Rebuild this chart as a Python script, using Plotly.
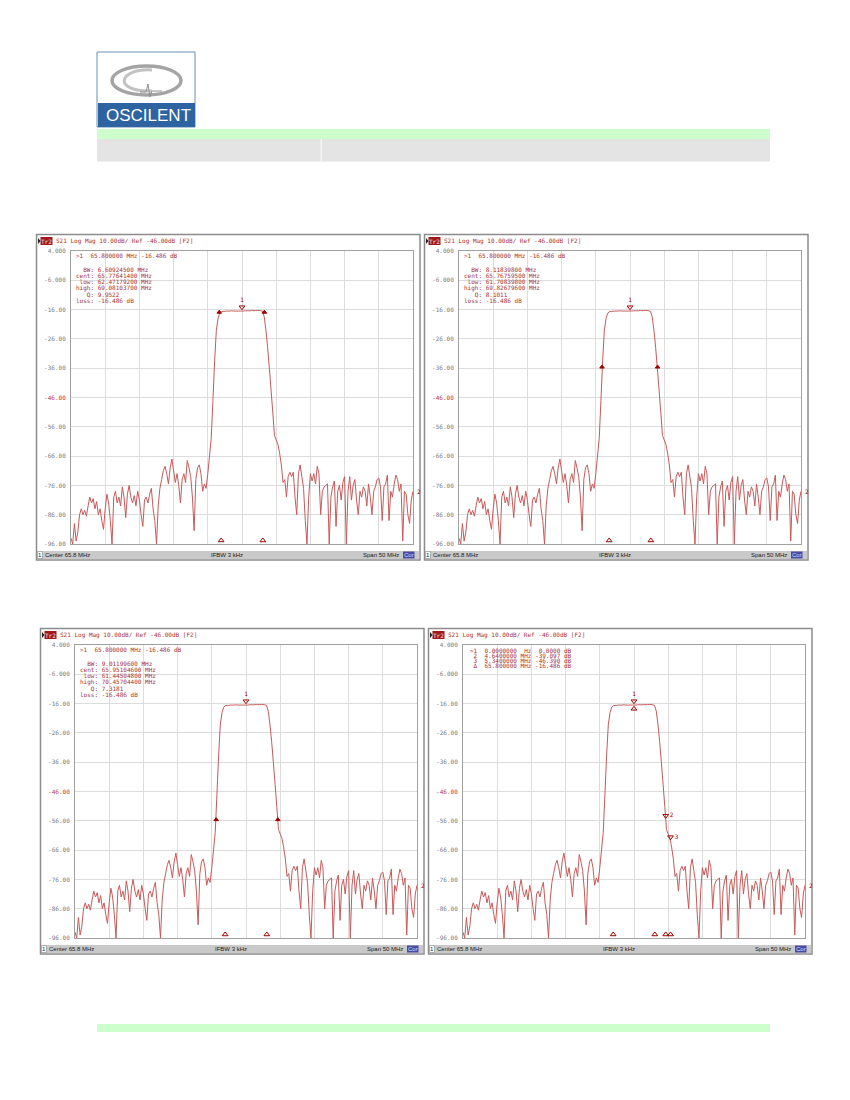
import plotly.graph_objects as go

# the page is 850x1100; the browser puts an 8px body margin round the figure
PAGE_W, PAGE_H = 850, 1100
BODY = 8
FIG_W, FIG_H = PAGE_W - 2 * BODY, PAGE_H - 2 * BODY

# Analyzer settings shown on screen
center_mhz = 65.8
span_mhz = 50.0
n_points = 201
ref_level_db = -46.0
scale_db = 10.0
ifbw_khz = 3
y_ticks_db = [4, -6, -16, -26, -36, -46, -56, -66, -76, -86, -96]

# S21 trace (dB), one value per sweep point (0.25 MHz)
stopband_low_db = [
    -94, -96, -89, -95, -92, -86, -84, -86, -84.5, -86.5,
    -83, -80, -82, -80.5, -84, -81.5, -86, -84, -88, -91,
    -84, -79, -82, -88, -96, -80, -78, -82, -80, -83,
    -76.5, -80, -87, -79, -76, -80, -82, -79.5, -83, -78,
    -81, -86, -90, -81, -80, -82, -79, -77, -84, -88,
    -96, -83, -77, -74, -71, -69.5, -72, -75.5, -70, -67,
    -71, -75, -72, -76, -82, -74, -72, -75, -67.5, -70,
    -73, -80, -91.5, -74, -70, -69, -72, -78, -75.5, -77,
    -72,
]
skirt_low_db = [-66, -60, -47, -33.5, -23, -19, -17.2]
passband_db = [
    -16.7, -16.6, -16.6, -16.5, -16.5, -16.5, -16.4, -16.5, -16.5, -16.5,
    -16.5, -16.5, -16.49, -16.5, -16.4, -16.4, -16.4, -16.4, -16.3, -16.4,
    -16.3, -16.3, -16.3, -16.4, -16.6,
]
skirt_high_db = [-18.5, -23, -29, -36, -43.5, -51, -59, -60.5, -62, -65]
stopband_high_db = [
    -69, -75, -74, -80, -73, -71.5, -73, -71.5, -80, -86,
    -72, -69, -73, -77, -88, -96, -80, -72, -74.5, -72,
    -75.5, -69.5, -72, -86, -78, -76.5, -76, -75.5, -96, -80,
    -76.5, -74.5, -90, -78, -76, -81, -75, -73, -96, -78,
    -73, -81, -76, -74, -81, -86, -78, -80, -76.5, -78,
    -83, -75.5, -80, -86, -78, -76.5, -74, -73.5, -76.5, -88,
    -76.5, -75.5, -72.5, -88, -78, -80, -75.5, -72.5, -74, -78,
    -75.5, -95, -78, -79, -86, -89, -81, -78,
]
s21_db = stopband_low_db + skirt_low_db + passband_db + skirt_high_db + stopband_high_db

f_start = center_mhz - span_mhz / 2
f_stop = center_mhz + span_mhz / 2
freq_mhz = [f_start + k * span_mhz / (n_points - 1) for k in range(n_points)]

# Marker readouts (panels 1-3 are bandwidth searches)
marker1_mhz = 65.8
marker1_db = -16.486
bw_mhz = [6.60924500, 8.11839800, 9.01199600]
cent_mhz = [65.77641400, 65.76759500, 65.95104600]
low_mhz = [62.47179200, 61.70839800, 61.44504800]
high_mhz = [69.08103700, 69.82679600, 70.45704400]
q_factor = [9.9522, 8.1011, 7.3181]
bw_level_db = [-17.8, -36.5, -56.5]
stim_marker_mhz = [62.75, 68.85]
# panel 4: delta markers relative to marker 1
delta_mhz = [4.64, 5.34]
delta_db = [-39.097, -46.390]

# colours / fonts
GRID = "#dcdcdc"
FRAME = "#a0a0a0"
TRACE = "#c65a5a"
MARK = "#a00000"
TXT_RED = "#a83232"
LABEL = "#7a7a7a"
MONO = "DejaVu Sans Mono"
SANS = "Liberation Sans"

# panel frames on the page (left, top) and plot area inside a frame
panel_origin = [(36.5, 234.5), (424.5, 234.5), (40.5, 628.5), (428.5, 628.5)]
FRAME_W, FRAME_H = 383.5, 325.5
PLOT_REL = (34.5, 16.5, 376.5, 309.5)

shapes, annotations = [], []


def X(x):
    return (x - BODY) / FIG_W


def Y(y):
    return 1 - (y - BODY) / FIG_H


def box(x0, y0, x1, y1, fill="rgba(0,0,0,0)", line=None, width=1):
    shapes.append(dict(
        type="rect", xref="paper", yref="paper",
        x0=X(x0), x1=X(x1), y0=Y(y1), y1=Y(y0),
        fillcolor=fill,
        line=dict(color=line or "rgba(0,0,0,0)", width=width if line else 0),
    ))


def path(points, fill=None, line=None, width=1, close=True):
    d = "M " + " L ".join(f"{X(a):.5f},{Y(b):.5f}" for a, b in points)
    if close:
        d += " Z"
    shapes.append(dict(
        type="path", xref="paper", yref="paper", path=d,
        fillcolor=fill or "rgba(0,0,0,0)",
        line=dict(color=line or "rgba(0,0,0,0)", width=width if line else 0),
    ))


def note(x, y, text, size=6, color=TXT_RED, anchor="left", family=MONO):
    annotations.append(dict(
        x=X(x), y=Y(y), xref="paper", yref="paper",
        text=text.replace(" ", "\u00a0"), showarrow=False,
        xanchor=anchor, yanchor="middle", borderpad=0,
        font=dict(family=family, size=size, color=color),
    ))


fig = go.Figure()
axes = {}

for k, (ox, oy) in enumerate(panel_origin):
    n = "" if k == 0 else str(k + 1)
    xr, yr = "x" + n, "y" + n
    left, top = ox + PLOT_REL[0], oy + PLOT_REL[1]
    right, bottom = ox + PLOT_REL[2], oy + PLOT_REL[3]

    ticktext = []
    for v in y_ticks_db:
        s = f"{v:.3f}" if abs(v) < 10 else f"{v:.2f}"
        if v == ref_level_db:
            s = f"<span style='color:#c03030'>{s}</span>"
        ticktext.append(s)

    axes["xaxis" + n] = dict(
        domain=[X(left), X(right)], anchor=yr, range=[f_start, f_stop],
        tick0=f_start, dtick=span_mhz / 10, showgrid=True, gridcolor=GRID,
        showline=True, linecolor=FRAME, linewidth=1, mirror=True,
        showticklabels=False, zeroline=False, ticks="", fixedrange=True,
        automargin=False,
    )
    axes["yaxis" + n] = dict(
        domain=[Y(bottom), Y(top)], anchor=xr,
        range=[y_ticks_db[-1], y_ticks_db[0]],
        tickvals=y_ticks_db, ticktext=ticktext,
        tickfont=dict(family=MONO, size=6, color=LABEL),
        showgrid=True, gridcolor=GRID,
        showline=True, linecolor=FRAME, linewidth=1, mirror=True,
        zeroline=False, ticks="", ticklabelstandoff=3, fixedrange=True,
        automargin=False,
    )

    fig.add_trace(go.Scatter(
        x=freq_mhz, y=s21_db, xaxis=xr, yaxis=yr, mode="lines",
        line=dict(color=TRACE, width=1, simplify=False),
        hoverinfo="skip", showlegend=False,
    ))

    def marks(xs, ys, symbol, size, text=None, textpos="top center"):
        fig.add_trace(go.Scatter(
            x=xs, y=ys, xaxis=xr, yaxis=yr,
            mode="markers+text" if text else "markers",
            marker=dict(symbol=symbol, size=size, color=MARK,
                        line=dict(color=MARK, width=1)),
            text=text, textposition=textpos,
            textfont=dict(family=MONO, size=6, color=MARK),
            cliponaxis=False, hoverinfo="skip", showlegend=False,
        ))

    lift = 1.3
    # marker 1 at the passband centre
    marks([marker1_mhz], [marker1_db + lift], "triangle-down-open", 5, text=["1"])
    # stimulus markers along the bottom edge
    stim = list(stim_marker_mhz)
    if k == 3:
        stim += [marker1_mhz + d for d in delta_mhz]
    marks(stim, [y_ticks_db[-1] + 1.2] * len(stim), "triangle-up-open", 5)
    marks([marker1_mhz], [y_ticks_db[-1] - 1.2], "triangle-up", 7)
    # reference level arrows on both sides
    marks([f_start - 0.4], [ref_level_db], "triangle-right", 6)
    marks([f_stop + 0.4], [ref_level_db], "triangle-left", 6)

    if k < 3:
        marks([low_mhz[k], high_mhz[k]], [bw_level_db[k] + 0.9] * 2, "triangle-up", 4)
        lines = [
            f">1  {marker1_mhz:.6f} MHz {marker1_db:.3f} dB",
            f"  BW: {bw_mhz[k]:.8f} MHz",
            f"cent: {cent_mhz[k]:.8f} MHz",
            f" low: {low_mhz[k]:.8f} MHz",
            f"high: {high_mhz[k]:.8f} MHz",
            f"   Q: {q_factor[k]:.4f}",
            f"loss: {marker1_db:.3f} dB",
        ]
        line_y = [21, 34.5, 40.8, 47.1, 53.4, 59.7, 66]
        for s, yy in zip(lines, line_y):
            note(ox + 38.5, oy + yy, s)
    else:
        marks([marker1_mhz], [marker1_db - lift], "triangle-up-open", 5)
        marks([marker1_mhz + d for d in delta_mhz],
              [marker1_db + d + lift for d in delta_db],
              "triangle-down-open", 5, text=["2", "3"], textpos="middle right")
        lines = [
            f">1  {0:.7f}  Hz  {0:.4f} dB",
            f" 2  {delta_mhz[0]:.7f} MHz {delta_db[0]:.3f} dB",
            f" 3  {delta_mhz[1]:.7f} MHz {delta_db[1]:.3f} dB",
            f" \u0394  {marker1_mhz:.6f} MHz {marker1_db:.3f} dB",
        ]
        for j, s in enumerate(lines):
            note(ox + 40.5, oy + 21.5 + 5 * j, s)

    # trace number at the end of the trace
    annotations.append(dict(
        x=f_stop, y=s21_db[-1], xref=xr, yref=yr, text="2", showarrow=False,
        xanchor="left", yanchor="middle", xshift=2,
        font=dict(family=MONO, size=6, color=MARK),
    ))

    # frame and title bar
    box(ox, oy, ox + FRAME_W, oy + FRAME_H, line="#8c8c8c", width=1.5)
    path([(ox + 1.5, oy + 3.5), (ox + 4, oy + 6.5), (ox + 1.5, oy + 9.5)], fill="#202020")
    box(ox + 4, oy + 2.5, ox + 16, oy + 10.5, fill="#a01818")
    note(ox + 10, oy + 6.5, "Tr2", size=6, color="#f4e0e0", anchor="center")
    note(ox + 18.5, oy + 6.5,
         f"S21 Log Mag {scale_db:.2f}dB/ Ref {ref_level_db:.2f}dB [F2]", size=6)

    # status bar
    sb_top, sb_bot = oy + 316.5, oy + 324.5
    sb_mid = (sb_top + sb_bot) / 2
    box(ox + 0.8, sb_top, ox + FRAME_W - 0.8, sb_bot, fill="#c9c9c9")
    box(ox + 1, sb_top + 0.5, ox + 6, sb_bot - 0.5, fill="#ffffff", line="#8c8c8c", width=0.6)
    note(ox + 3.5, sb_mid, "1", size=6, color="#202020", anchor="center", family=SANS)
    note(ox + 7.5, sb_mid, f"Center {center_mhz:g} MHz", size=6,
         color="#202020", family=SANS)
    note(ox + 190.5, sb_mid, f"IFBW {ifbw_khz} kHz", size=6,
         color="#202020", anchor="center", family=SANS)
    note(ox + 363.5, sb_mid, f"Span {span_mhz:g} MHz", size=6,
         color="#202020", anchor="right", family=SANS)
    box(ox + 366.5, sb_top + 0.5, ox + 378, sb_bot - 0.5, fill="#4a4aa0")
    note(ox + 372.2, sb_mid, "Cor", size=6, color="#dcdcff",
         anchor="center", family=SANS)

# page header: logo and table bars
box(97, 52, 195, 127, fill="#ffffff", line="#6a8fb5", width=1)
shapes.append(dict(type="circle", xref="paper", yref="paper",
                   x0=X(112), x1=X(181), y0=Y(95), y1=Y(66),
                   line=dict(color="#a4a4a4", width=3.5)))
shapes.append(dict(type="path", xref="paper", yref="paper",
                   path=f"M {X(152)},{Y(70)} C {X(118)},{Y(68)} {X(112)},{Y(92)} {X(152)},{Y(91)}",
                   line=dict(color="#c2c2c2", width=3)))
path([(140, 92), (146, 92), (148, 84), (150, 97), (152, 91), (162, 91)],
     line="#909090", width=1, close=False)
box(98, 103, 195, 127, fill="#2c63a0")
note(148, 116, "OSCILENT", size=17, color="#ffffff", anchor="center", family=SANS)
box(97, 129, 770, 139, fill="#ccffcc")
box(97, 139, 770, 161.5, fill="#e4e4e4")
box(320.5, 139, 322, 161.5, fill="#f4f4f4")
box(97, 1024, 770, 1032, fill="#ccffcc")

fig.update_layout(
    width=FIG_W, height=FIG_H,
    margin=dict(l=0, r=0, t=0, b=0, autoexpand=False),
    paper_bgcolor="#ffffff", plot_bgcolor="#ffffff",
    showlegend=False,
    shapes=shapes, annotations=annotations,
    **axes,
)

fig.write_html("out.html")
